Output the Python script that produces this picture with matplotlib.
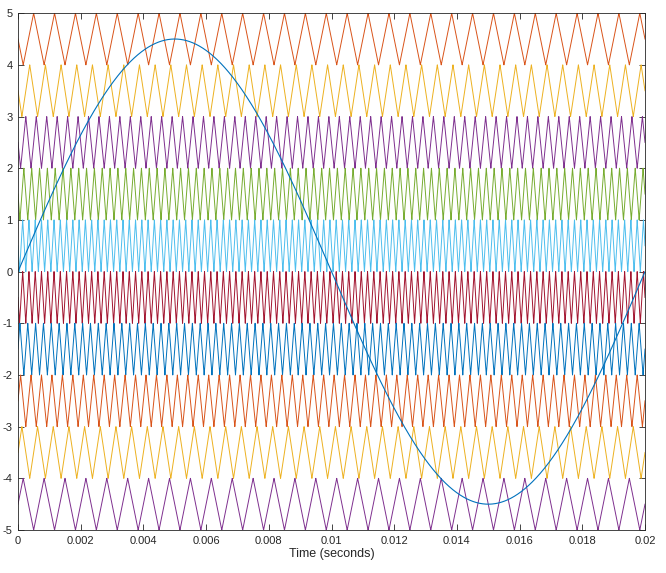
import numpy as np
import matplotlib
matplotlib.use("Agg")
import matplotlib.pyplot as plt

# --- data ---
ref_amplitude = 4.5
ref_frequency = 50.0            # Hz
t_end = 0.02
band_lows = [4, 3, 2, 1, 0, -1, -2, -3, -4, -5]
carrier_freqs = [1500, 2000, 3000, 4000, 5000, 5000, 4000, 3000, 2000, 1500]
carrier_phases = [0.25, 0.25, 0.25, 0.25, 0.25, 0.25, 0.75, 0.75, 0.75, 0.75]
carrier_colors = ["#D95319", "#EDB120", "#7E2F8E", "#77AC30", "#4DBEEE",
                  "#A2142F", "#0072BD", "#D95319", "#EDB120", "#7E2F8E"]
ref_color = "#0072BD"
xticks = [0, 0.002, 0.004, 0.006, 0.008, 0.01, 0.012, 0.014, 0.016, 0.018, 0.02]
xtick_labels = ["0", "0.002", "0.004", "0.006", "0.008", "0.01", "0.012",
                "0.014", "0.016", "0.018", "0.02"]
yticks = list(range(-5, 6))

plt.rcParams['font.family'] = ['Liberation Sans', 'DejaVu Sans']
plt.rcParams['axes.unicode_minus'] = False

fig = plt.figure(figsize=(6.66, 5.73), dpi=100)
ax = fig.add_axes([0.027, 0.075, 0.9415, 0.902])

t = np.linspace(0, t_end, 40001)
for low, f, ph, c in zip(band_lows, carrier_freqs, carrier_phases, carrier_colors):
    frac = np.mod(f * t + ph, 1.0)
    y = low + np.abs(2 * frac - 1)
    ax.plot(t, y, color=c, lw=0.7)

ax.plot(t, ref_amplitude * np.sin(2 * np.pi * ref_frequency * t), color=ref_color, lw=0.8)

ax.set_xlim(0, t_end)
ax.set_ylim(-5, 5)
ax.set_xticks(xticks)
ax.set_xticklabels(xtick_labels)
ax.set_yticks(yticks)
ax.tick_params(direction='in', length=4, width=0.6, top=True, right=True,
               labelsize=8, colors='#262626', pad=4)
for s in ax.spines.values():
    s.set_color('#262626')
    s.set_linewidth(0.6)
ax.set_xlabel("Time (seconds)", fontsize=9, color='#262626', labelpad=2)

fig.savefig("out.png", dpi=100)
